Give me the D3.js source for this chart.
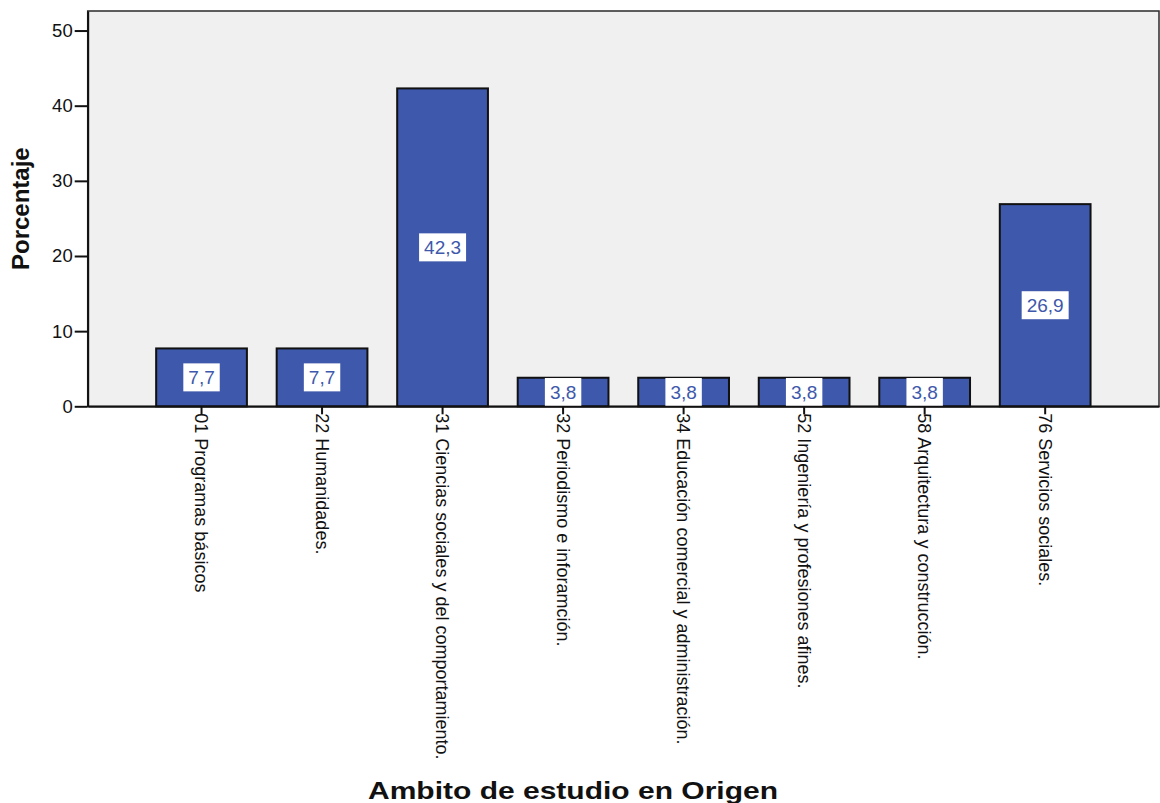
<!DOCTYPE html>
<html>
<head>
<meta charset="utf-8">
<script src="https://cdn.jsdelivr.net/npm/d3@7"></script>
<style>
  html, body { margin: 0; padding: 0; background: #ffffff; }
  svg { display: block; }
</style>
</head>
<body>
<svg id="chart" width="1160" height="803"></svg>
<script>
const categories = [
  "01 Programas básicos",
  "22 Humanidades.",
  "31 Ciencias sociales y del comportamiento.",
  "32 Periodismo e inforamción.",
  "34 Educación comercial y administración.",
  "52 Ingeniería y profesiones afines.",
  "58 Arquitectura y construcción.",
  "76 Servicios sociales."
];
const values = [7.7, 7.7, 42.3, 3.8, 3.8, 3.8, 3.8, 26.9];
const valueLabels = ["7,7", "7,7", "42,3", "3,8", "3,8", "3,8", "3,8", "26,9"];
const yTicks = [0, 10, 20, 30, 40, 50];
const yTitle = "Porcentaje";
const xTitle = "Ambito de estudio en Origen";

(function () {
const svg = d3.select("#chart");
const pLeft = 87.7, pRight = 1159, pTop = 11, pBottom = 406.3;

const x = d3.scaleBand()
  .domain(categories)
  .range([pLeft, pRight])
  .paddingInner(0.247)
  .paddingOuter(0.568);

const y = d3.scaleLinear()
  .domain([0, 52.6])
  .range([pBottom, pTop]);

// plot background / frame
svg.append("rect")
  .attr("x", pLeft).attr("y", pTop)
  .attr("width", pRight - pLeft).attr("height", pBottom - pTop)
  .attr("fill", "#f0f0f0")
  .attr("stroke", "#2a2a2a")
  .attr("stroke-width", 1.5);

// bars
svg.append("g").selectAll("rect")
  .data(categories)
  .join("rect")
  .attr("x", (d) => x(d))
  .attr("y", (d, i) => y(values[i]))
  .attr("width", x.bandwidth())
  .attr("height", (d, i) => y(0) - y(values[i]))
  .attr("fill", "#3e58ab")
  .attr("stroke", "#111")
  .attr("stroke-width", 2);

// value labels
const lab = svg.append("g").selectAll("g")
  .data(categories)
  .join("g")
  .attr("transform", (d, i) => `translate(${x(d) + x.bandwidth() / 2},${(y(values[i]) + y(0)) / 2})`);

lab.append("text")
  .attr("text-anchor", "middle")
  .attr("dy", "0.36em")
  .attr("font-family", "'Liberation Sans', Arial, sans-serif")
  .attr("font-size", 19)
  .attr("fill", "#3e58ab")
  .text((d, i) => valueLabels[i])
  .each(function () {
    const w = this.getComputedTextLength();
    d3.select(this.parentNode).insert("rect", "text")
      .attr("x", -w / 2 - 5)
      .attr("y", -14)
      .attr("width", w + 10)
      .attr("height", 28)
      .attr("fill", "#ffffff");
  });

// y axis
const yAxis = svg.append("g")
  .attr("transform", `translate(${pLeft},0)`)
  .call(d3.axisLeft(y).tickValues(yTicks).tickFormat(d3.format("d")).tickSize(13).tickSizeOuter(0).tickPadding(2));
yAxis.select(".domain").attr("stroke", "#111").attr("stroke-width", 2);
yAxis.selectAll(".tick line").attr("stroke", "#111").attr("stroke-width", 2);
yAxis.selectAll(".tick text")
  .attr("font-family", "'Liberation Sans', Arial, sans-serif")
  .attr("font-size", 18.5)
  .attr("fill", "#111");

// x axis
const xAxis = svg.append("g")
  .attr("transform", `translate(0,${pBottom})`)
  .call(d3.axisBottom(x).tickSize(8).tickSizeOuter(0).tickPadding(0));
xAxis.select(".domain").attr("stroke", "#111").attr("stroke-width", 2);
xAxis.selectAll(".tick line").attr("stroke", "#111").attr("stroke-width", 2);
xAxis.selectAll(".tick text")
  .attr("font-family", "'Liberation Sans', Arial, sans-serif")
  .attr("font-size", 18)
  .attr("fill", "#111")
  .attr("text-anchor", "start")
  .attr("y", 0)
  .attr("x", 0)
  .attr("dy", "0.36em")
  .attr("transform", "translate(0,7) rotate(90)");

// axis titles
svg.append("text")
  .attr("transform", `translate(28.5,${(pTop + pBottom) / 2}) rotate(-90)`)
  .attr("text-anchor", "middle")
  .attr("font-family", "'Liberation Sans', Arial, sans-serif")
  .attr("font-weight", "bold")
  .attr("font-size", 24)
  .attr("fill", "#111")
  .text(yTitle);

svg.append("text")
  .attr("x", 368)
  .attr("y", 799)
  .attr("text-anchor", "start")
  .attr("font-family", "'Liberation Sans', Arial, sans-serif")
  .attr("font-weight", "bold")
  .attr("font-size", 24)
  .attr("textLength", 410)
  .attr("lengthAdjust", "spacingAndGlyphs")
  .attr("fill", "#111")
  .text(xTitle);
})();
</script>
</body>
</html>
